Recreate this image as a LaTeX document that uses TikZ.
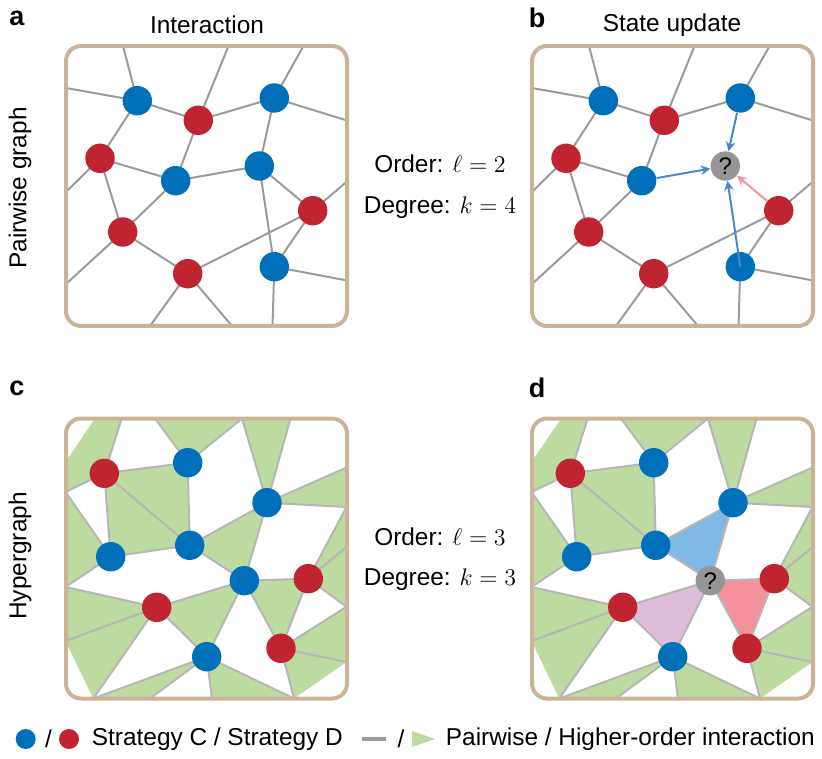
\documentclass[tikz,border=0pt]{standalone}
\usepackage{fontspec}
\setmainfont{Liberation Sans}
\usetikzlibrary{arrows.meta,backgrounds}

\definecolor{stratC}{RGB}{0,112,186}
\definecolor{stratD}{RGB}{192,36,48}
\definecolor{framec}{RGB}{201,180,152}
\definecolor{pairc}{RGB}{155,155,155}
\definecolor{hyperc}{RGB}{182,182,182}
\definecolor{greenc}{RGB}{189,219,161}
\definecolor{qgray}{RGB}{150,150,150}
\definecolor{arrowC}{RGB}{74,135,205}
\definecolor{arrowD}{RGB}{242,148,158}
\definecolor{triC}{RGB}{128,184,228}
\definecolor{triD}{RGB}{245,145,156}
\definecolor{triM}{RGB}{221,189,218}

% node lists (n/x/y/strategy), coordinates in px of the figure
\def\pairnodes{1/137.3/100.7/stratC, 2/198.3/120.3/stratD, 3/274.3/98/stratC,
  4/100/158.3/stratD, 5/175.7/180.7/stratC, 6/259.3/166/stratC, 7/312.7/210.7/stratD,
  8/122.7/232/stratD, 9/187.7/273.7/stratD, 10/274.3/266.7/stratC}
\def\hypernodes{1/104.3/473.3/stratD, 2/187.7/462.7/stratC, 3/267/502.7/stratC,
  4/110.7/556.7/stratC, 5/189.7/545.3/stratC, 6/244.3/580.7/stratC, 7/308.3/578.7/stratD,
  8/156.7/607.3/stratD, 9/206.7/656.7/stratC, 10/281/648.3/stratD}

\begin{document}
\begin{tikzpicture}[
  x=0.5pt, y=-0.5pt,
  font=\fontsize{12.2}{14}\selectfont,
  agent/.style={circle, inner sep=0pt, minimum size=14.7pt},
  query/.style={agent, fill=qgray, font=\fontsize{12}{14}\selectfont},
  frame/.style={draw=framec, line width=2pt, rounded corners=7.5pt},
  pair/.style={draw=pairc, line width=1pt},
  hedge/.style={draw=hyperc, line width=1pt},
  hyper/.style={fill=greenc},
  toC/.style={-{Stealth[length=4.8pt, width=4.8pt]}, draw=arrowC, line width=1pt},
  toD/.style={toC, draw=arrowD},
  panel/.style={font=\fontsize{13.5}{15}\selectfont\bfseries, inner sep=0pt},
  lab/.style={inner sep=1pt}
]
\useasboundingbox (0,0) rectangle (822,758);

% --- Headings and row labels --------------------------------------------------
\node[panel] (pa) at (17,18) {a};
\node[panel] (pb) at (537,18) {b};
\node[panel] (pc) at (17,388) {c};
\node[panel] (pd) at (537,388) {d};
\node[lab] (h1) at (207,25) {Interaction};
\node[lab] (h2) at (672,25) {State update};
\node[lab, rotate=90] (r1) at (20,188) {Pairwise graph};
\node[lab, rotate=90] (r2) at (20,556) {Hypergraph};

\node[lab] (ord1) at (440,164) {Order: $\ell=2$};
\node[lab] (deg1) at (440,208) {Degree: $k=4$};
\node[lab] (ord2) at (440,537) {Order: $\ell=3$};
\node[lab] (deg2) at (440,580) {Degree: $k=3$};

% --- Pairwise graph (a, b) ----------------------------------------------------
\foreach \n/\x/\y/\s in \pairnodes {
  \node[agent, fill=\s] (a\n) at (\x,\y) {};
  \ifnum\n=6
    \node[query] (b\n) at (\x+466,\y) {?};
  \else
    \node[agent, fill=\s] (b\n) at (\x+466,\y) {};
  \fi
}

\begin{scope}[on background layer]
  \foreach \pn/\dx in {a/0, b/466} {
    \foreach \u/\v in {1/2,1/4,2/3,2/5,4/5,4/8,5/8,7/9,7/10,8/9}
      \draw[pair] (\pn\u.center) -- (\pn\v.center);
    \foreach \u/\x/\y [count=\i] in {1/123/46, 1/66/88, 2/228.5/46, 3/303.5/46,
        3/347/120.5, 4/66/192, 7/347/181.5, 8/66/284, 9/150/326, 9/232/326,
        10/347/280.5, 10/272.5/326} {
      \coordinate (\pn-e\i) at (\x+\dx,\y);
      \draw[pair] (\pn\u.center) -- (\pn-e\i);
    }
  }
  \foreach \v in {3,5,7,10}
    \draw[pair] (a6.center) -- (a\v.center);
\end{scope}

% influence of the neighbours on the focal node
\draw[toC] (b3) -- (b6);
\draw[toC] (b5) -- (b6);
\draw[toC] (b10.center) -- (b6);
\draw[toD] (b7) -- (b6);

% --- Hypergraph (c, d) --------------------------------------------------------
\foreach \n/\x/\y/\s in \hypernodes {
  \node[agent, fill=\s] (c\n) at (\x,\y) {};
  \ifnum\n=6
    \node[query] (d\n) at (\x+466,\y) {?};
  \else
    \node[agent, fill=\s] (d\n) at (\x+466,\y) {};
  \fi
}

\begin{scope}[on background layer]
  \foreach \pn/\dx/\fa/\fb/\fc in {c/0/greenc/greenc/greenc, d/466/triC/triD/triM} {
    \foreach \nm/\x/\y in {t1/95/418.5, t2/121.7/418.5, t3/155/418.5, t4/242/418.5,
        t5/290.5/418.5, r1/346.5/467.5, r2/346.5/507, r3/346.5/547, r4/346.5/606.7,
        r5/346.5/662, b1/294/698.5, b2/212/698.5, b3/150/698.5, b4/93.3/698.5,
        l1/65.5/641, l2/65.5/587, l3/65.5/492, l4/65.5/462}
      \coordinate (\pn-\nm) at (\x+\dx,\y);
    % higher-order interactions (triangles)
    \fill[hyper] (\pn1.center) -- (\pn-t2) -- (\pn-t1) -- (\pn-l4) -- (\pn-l3) -- cycle;
    \fill[hyper] (\pn2.center) -- (\pn-t3) -- (\pn-t4) -- cycle;
    \fill[hyper] (\pn3.center) -- (\pn-t4) -- (\pn-t5) -- cycle;
    \fill[hyper] (\pn3.center) -- (\pn-r1) -- (\pn-r2) -- cycle;
    \fill[hyper] (\pn1.center) -- (\pn2.center) -- (\pn5.center) -- cycle;
    \fill[hyper] (\pn1.center) -- (\pn5.center) -- (\pn4.center) -- cycle;
    \fill[hyper] (\pn4.center) -- (\pn-l3) -- (\pn-l2) -- cycle;
    \fill[hyper] (\pn8.center) -- (\pn-l2) -- (\pn-l1) -- cycle;
    \fill[hyper] (\pn8.center) -- (\pn-l1) -- (\pn-b4) -- cycle;
    \fill[hyper] (\pn9.center) -- (\pn-b4) -- (\pn-b3) -- cycle;
    \fill[hyper] (\pn9.center) -- (\pn-b2) -- (\pn-b1) -- cycle;
    \fill[hyper] (\pn10.center) -- (\pn-b1) -- (\pn-r5) -- cycle;
    \fill[hyper] (\pn10.center) -- (\pn-r5) -- (\pn-r4) -- cycle;
    \fill[hyper] (\pn7.center) -- (\pn-r2) -- (\pn-r3) -- cycle;
    \fill[hyper] (\pn7.center) -- (\pn-r3) -- (\pn-r4) -- cycle;
    \fill[fill=\fa] (\pn5.center) -- (\pn3.center) -- (\pn6.center) -- cycle;
    \fill[fill=\fb] (\pn6.center) -- (\pn7.center) -- (\pn10.center) -- cycle;
    \fill[fill=\fc] (\pn8.center) -- (\pn6.center) -- (\pn9.center) -- cycle;
    % pairwise links
    \foreach \u/\v in {1/2,1/4,1/5,2/5,3/5,3/6,4/5,5/6,6/7,6/8,6/9,6/10,7/10,8/9}
      \draw[hedge] (\pn\u.center) -- (\pn\v.center);
    \foreach \u/\e in {1/t2,1/l3,2/t3,2/t4,3/t4,3/t5,3/r1,3/r2,4/l3,4/l2,7/r2,7/r3,
        7/r4,8/l2,8/l1,8/b4,9/b4,9/b3,9/b2,9/b1,10/b1,10/r5,10/r4}
      \draw[hedge] (\pn\u.center) -- (\pn-\e);
  }
\end{scope}

% --- Frames -------------------------------------------------------------------
\foreach \px/\py in {66/46, 532/46, 66/418.5, 532/418.5}
  \draw[frame] (\px,\py) rectangle ++(281,280);

% --- Legend -------------------------------------------------------------------
\node[agent, fill=stratC, minimum size=10pt] (legC) at (25.7,739) {};
\node[lab] (sl1) at (48.5,739) {/};
\node[agent, fill=stratD, minimum size=10pt] (legD) at (69,739) {};
\node[lab, anchor=west, inner sep=0pt] (leg1) at (91.5,739) {Strategy C / Strategy D};
\draw[draw=pairc, line width=1.6pt] (362,739) -- (385.5,739);
\node[lab] (sl2) at (401,739) {/};
\fill[greenc] (412,731) -- (435,739) -- (412,747) -- cycle;
\node[lab, anchor=west, inner sep=0pt] (leg2) at (445.5,739) {Pairwise / Higher-order interaction};

\end{tikzpicture}
\end{document}
